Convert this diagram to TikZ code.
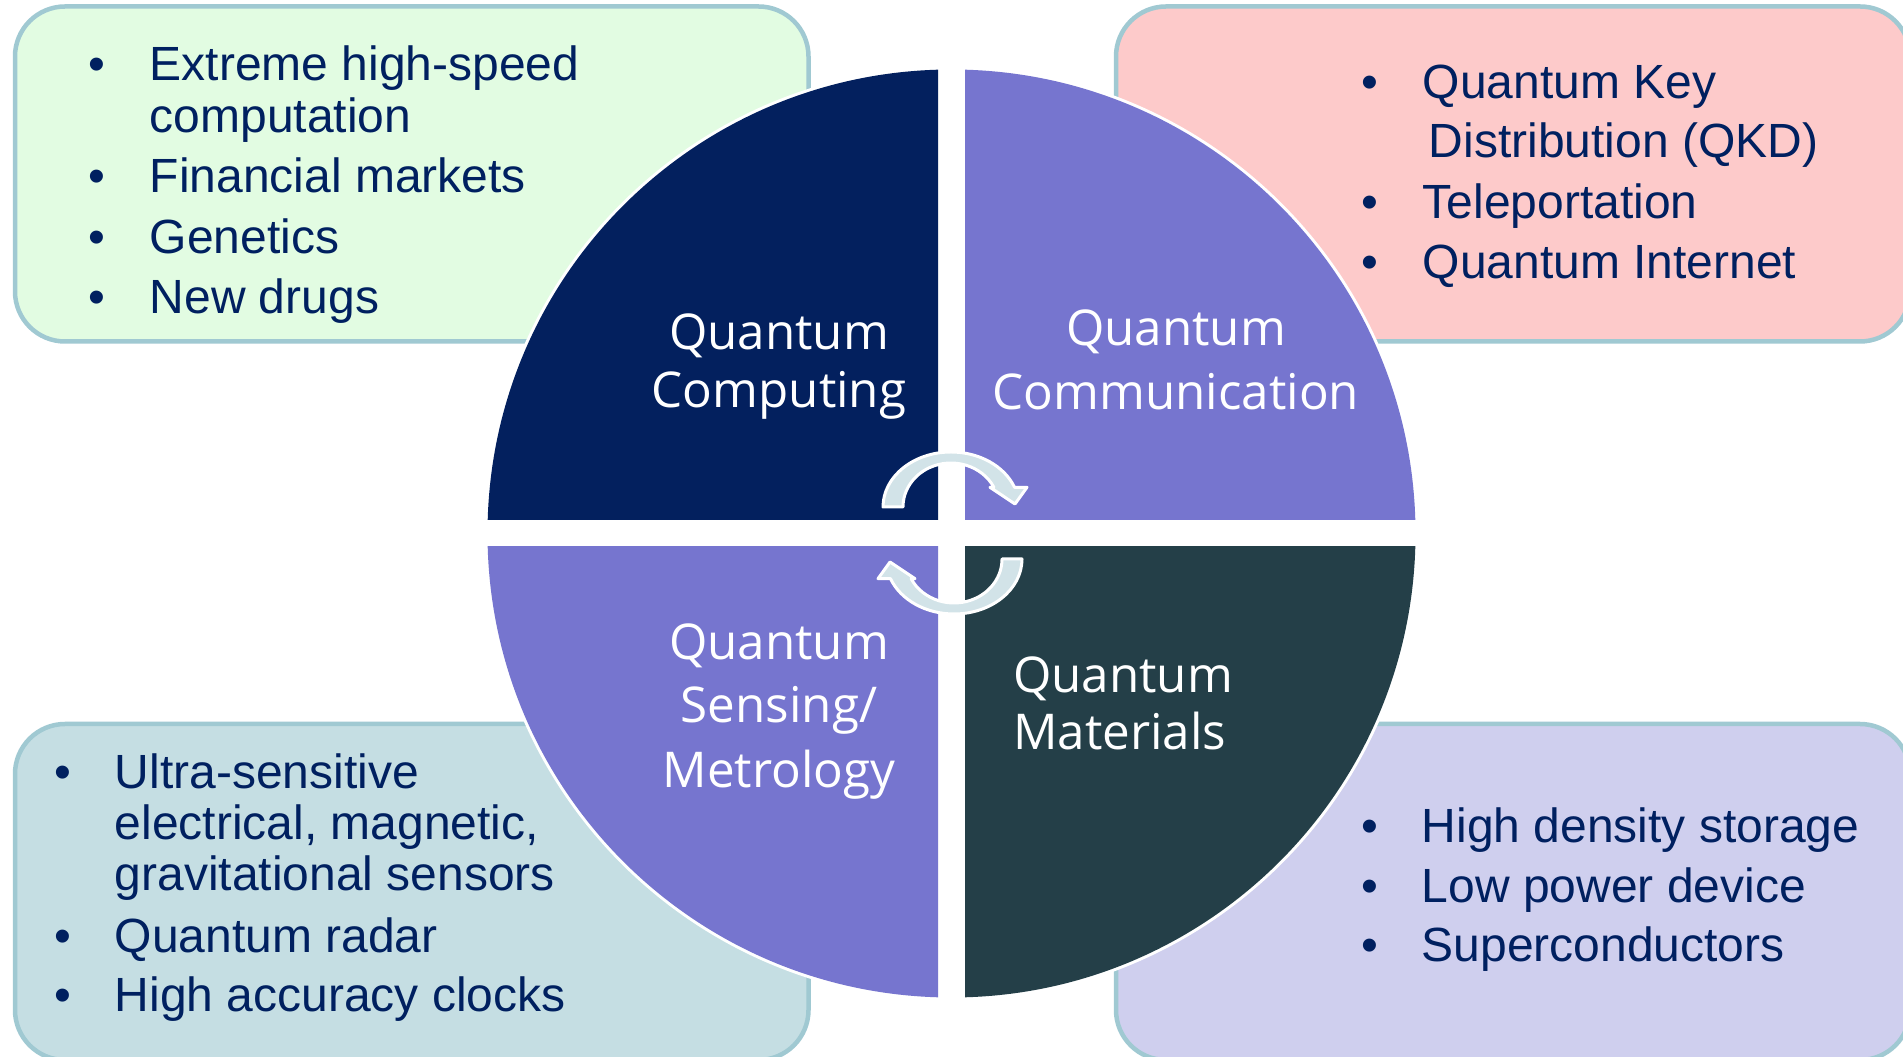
\documentclass[tikz,border=0pt]{standalone}
\usepackage{fontspec}
\setmainfont{Liberation Sans}
\newfontfamily\quadfont{Open Sans}
\usetikzlibrary{calc}

\definecolor{textnavy}{HTML}{002060}
\definecolor{qnavy}{HTML}{03205E}
\definecolor{qviolet}{HTML}{7675CF}
\definecolor{qslate}{HTML}{243F48}
\definecolor{panelline}{HTML}{A0C9D2}
\definecolor{fillgreen}{HTML}{E2FCE2}
\definecolor{fillpink}{HTML}{FDCACA}
\definecolor{fillblue}{HTML}{C5DEE3}
\definecolor{filllav}{HTML}{CFCFEE}
\definecolor{arrowfill}{HTML}{D2E3E8}

\tikzset{
  panel/.style={draw=panelline, line width=4.5pt, rounded corners=50pt,
    minimum width=794pt, minimum height=335pt, inner sep=0pt},
  item/.style={anchor=base west, inner sep=0pt, text=textnavy,
    font=\fontsize{48}{58}\selectfont},
  quadlabel/.style={anchor=base, inner sep=0pt, text=white,
    font=\quadfont\fontsize{49.3}{59}\selectfont},
  cyclearrow/.style={fill=arrowfill, draw=white, line width=3pt, line join=round},
}

\begin{document}
\begin{tikzpicture}[x=1pt,y=1pt]
\useasboundingbox (0,0) rectangle (1903,1057);
\fill[white] (0,0) rectangle (1903,1057);

% application panels behind the wheel
\node[panel, fill=fillgreen, minimum width=793.5pt] (pTL) at (411.75,883) {};
\node[panel, fill=fillpink] (pTR) at (1513,883) {};
\node[panel, fill=fillblue, minimum width=793.5pt, minimum height=336pt] (pBL) at (411.75,165) {};
\node[panel, fill=filllav, minimum height=336pt] (pBR) at (1513,165) {};

% four-part wheel
\coordinate (C) at (951.5,523.5);
\fill[white] (C) circle (467);
\begin{scope}
  \clip (0,537) rectangle (938,1057);
  \fill[qnavy] (C) circle (464);
\end{scope}
\begin{scope}
  \clip (965,537) rectangle (1903,1057);
  \fill[qviolet] (C) circle (464);
\end{scope}
\begin{scope}
  \clip (0,0) rectangle (938,510);
  \fill[qviolet] (C) circle (464);
\end{scope}
\begin{scope}
  \clip (965,0) rectangle (1903,510);
  \fill[qslate] (C) circle (464);
\end{scope}

% cycle arrows in the middle
\path[cyclearrow] (883,550) arc[start angle=180, end angle=21, x radius=68, y radius=55]
  -- (1027,569.7) -- (1015,553) -- (990,569.7) -- (993.9,569.7)
  arc[start angle=26.6, end angle=180, x radius=48, y radius=44] -- cycle;
\begin{scope}[rotate around={180:(952.5,524)}]
\path[cyclearrow] (883,550) arc[start angle=180, end angle=21, x radius=68, y radius=55]
  -- (1027,569.7) -- (1015,553) -- (990,569.7) -- (993.9,569.7)
  arc[start angle=26.6, end angle=180, x radius=48, y radius=44] -- cycle;
\end{scope}

% wheel labels
\node[quadlabel] (qc1) at (779,707) {Quantum};
\node[quadlabel] (qc2) at (779,649) {Computing};
\node[quadlabel] (qm1) at (1176,711) {Quantum};
\node[quadlabel] (qm2) at (1176,647) {Communication};
\node[quadlabel] (qs1) at (779,397) {Quantum};
\node[quadlabel] (qs2) at (779,334) {Sensing/};
\node[quadlabel] (qs3) at (779,269) {Metrology};
\node[quadlabel, anchor=base west] (qt1) at (1013,364) {Quantum};
\node[quadlabel, anchor=base west] (qt2) at (1013,307) {Materials};

% computing applications
\node[item] (tlb1) at (88,976) {\textbullet};
\node[item] (tl1) at (149.5,976) {Extreme high-speed};
\node[item] (tl1c) at (149.5,924.3) {computation};
\node[item] (tlb2) at (88,864.3) {\textbullet};
\node[item] (tl2) at (149.5,864.3) {Financial markets};
\node[item] (tlb3) at (88,803.7) {\textbullet};
\node[item] (tl3) at (149.5,803.7) {Genetics};
\node[item] (tlb4) at (88,743.7) {\textbullet};
\node[item] (tl4) at (149.5,743.7) {New drugs};

% communication applications
\node[item] (trb1) at (1361,958) {\textbullet};
\node[item] (tr1) at (1422.5,958) {Quantum Key};
\node[item] (tr1c) at (1428.5,899.3) {Distribution (QKD)};
\node[item] (trb2) at (1361,838) {\textbullet};
\node[item] (tr2) at (1422.5,838) {Teleportation};
\node[item] (trb3) at (1361,778.7) {\textbullet};
\node[item] (tr3) at (1422.5,778.7) {Quantum Internet};

% sensing applications
\node[item] (blb1) at (54,268.7) {\textbullet};
\node[item] (bl1) at (114.5,268.7) {Ultra-sensitive};
\node[item] (bl1c) at (114.5,217.7) {electrical, magnetic,};
\node[item] (bl1d) at (114.5,166.3) {gravitational sensors};
\node[item] (blb2) at (54,104.7) {\textbullet};
\node[item] (bl2) at (114.5,104.7) {Quantum radar};
\node[item] (blb3) at (54,45.3) {\textbullet};
\node[item] (bl3) at (114.5,45.3) {High accuracy clocks};

% materials applications
\node[item] (brb1) at (1361,214.3) {\textbullet};
\node[item] (br1) at (1421.5,214.3) {High density storage};
\node[item] (brb2) at (1361,154.3) {\textbullet};
\node[item] (br2) at (1421.5,154.3) {Low power device};
\node[item] (brb3) at (1361,95.3) {\textbullet};
\node[item] (br3) at (1421.5,95.3) {Superconductors};
\end{tikzpicture}
\end{document}
